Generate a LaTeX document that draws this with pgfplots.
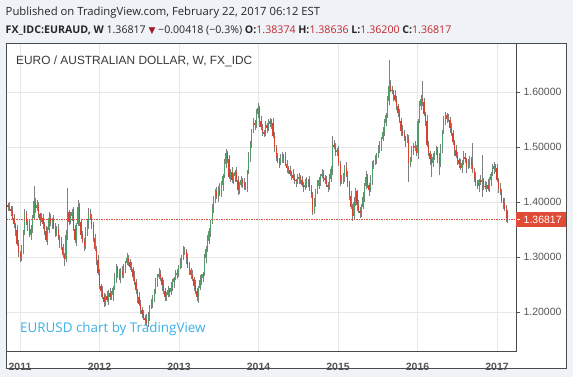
\documentclass[border=0pt]{standalone}
\usepackage{pgfplots}
\pgfplotsset{compat=1.18}
\usepackage{pgfplotstable}
\usepackage{fontspec}
\setmainfont{Liberation Sans}
\newfontfamily\osans{Open Sans}
\newfontfamily\djv{DejaVu Sans}
\definecolor{bgc}{HTML}{EFF2F6}
\definecolor{panelc}{HTML}{4B4B4B}
\definecolor{gridc}{HTML}{E8E8E8}
\definecolor{wickc}{HTML}{808080}
\definecolor{upc}{HTML}{4E9E68}
\definecolor{dnc}{HTML}{D8432F}
\definecolor{pricec}{HTML}{DF4B36}
\definecolor{valc}{HTML}{C1272D}
\definecolor{titlec}{HTML}{3A3A3A}
\definecolor{tickc}{HTML}{555555}
\definecolor{wmc}{HTML}{3BB0E8}

\pgfplotstableread{
i o h l c
0 1.395 1.399 1.385 1.392
1 1.392 1.400 1.384 1.388
2 1.388 1.393 1.375 1.384
3 1.384 1.394 1.367 1.372
4 1.372 1.378 1.354 1.360
5 1.360 1.363 1.339 1.350
6 1.350 1.359 1.321 1.325
7 1.325 1.332 1.300 1.308
8 1.308 1.312 1.291 1.298
9 1.298 1.323 1.294 1.315
10 1.315 1.350 1.306 1.345
11 1.345 1.388 1.340 1.378
12 1.378 1.384 1.359 1.365
13 1.365 1.368 1.347 1.358
14 1.358 1.367 1.336 1.340
15 1.340 1.359 1.332 1.352
16 1.352 1.376 1.345 1.372
17 1.372 1.430 1.368 1.402
18 1.402 1.407 1.381 1.390
19 1.390 1.405 1.385 1.395
20 1.395 1.401 1.372 1.378
21 1.378 1.381 1.357 1.368
22 1.368 1.381 1.364 1.372
23 1.372 1.379 1.352 1.360
24 1.360 1.364 1.341 1.348
25 1.348 1.356 1.328 1.332
26 1.332 1.355 1.323 1.350
27 1.350 1.382 1.345 1.372
28 1.372 1.378 1.356 1.362
29 1.362 1.371 1.351 1.368
30 1.368 1.377 1.351 1.355
31 1.355 1.362 1.337 1.345
32 1.345 1.356 1.338 1.352
33 1.352 1.360 1.331 1.335
34 1.335 1.340 1.317 1.326
35 1.326 1.336 1.313 1.318
36 1.318 1.324 1.299 1.305
37 1.305 1.308 1.285 1.296
38 1.296 1.349 1.292 1.340
39 1.340 1.426 1.332 1.382
40 1.382 1.386 1.358 1.365
41 1.365 1.383 1.361 1.375
42 1.375 1.387 1.366 1.382
43 1.382 1.392 1.347 1.352
44 1.352 1.358 1.326 1.332
45 1.332 1.363 1.321 1.360
46 1.360 1.405 1.356 1.392
47 1.392 1.399 1.357 1.365
48 1.365 1.369 1.333 1.340
49 1.340 1.348 1.326 1.330
50 1.330 1.335 1.311 1.320
51 1.320 1.355 1.315 1.345
52 1.345 1.368 1.339 1.362
53 1.362 1.390 1.351 1.378
54 1.378 1.387 1.368 1.372
55 1.372 1.379 1.352 1.360
56 1.360 1.364 1.328 1.335
57 1.335 1.343 1.311 1.315
58 1.315 1.320 1.286 1.295
59 1.295 1.305 1.267 1.272
60 1.272 1.278 1.242 1.248
61 1.248 1.251 1.227 1.238
62 1.238 1.247 1.224 1.228
63 1.228 1.235 1.210 1.218
64 1.218 1.234 1.211 1.230
65 1.230 1.238 1.218 1.222
66 1.222 1.240 1.213 1.235
67 1.235 1.245 1.223 1.228
68 1.228 1.238 1.222 1.232
69 1.232 1.248 1.221 1.245
70 1.245 1.271 1.241 1.262
71 1.262 1.287 1.254 1.280
72 1.280 1.284 1.263 1.270
73 1.270 1.278 1.258 1.262
74 1.262 1.280 1.253 1.275
75 1.275 1.285 1.263 1.268
76 1.268 1.288 1.262 1.282
77 1.282 1.293 1.271 1.290
78 1.290 1.307 1.286 1.298
79 1.298 1.305 1.284 1.292
80 1.292 1.296 1.276 1.283
81 1.283 1.291 1.274 1.278
82 1.278 1.283 1.256 1.265
83 1.265 1.275 1.250 1.255
84 1.255 1.261 1.234 1.240
85 1.240 1.243 1.217 1.228
86 1.228 1.237 1.211 1.215
87 1.215 1.222 1.197 1.205
88 1.205 1.209 1.189 1.196
89 1.196 1.204 1.186 1.190
90 1.190 1.195 1.177 1.186
91 1.186 1.196 1.175 1.180
92 1.180 1.201 1.174 1.195
93 1.195 1.213 1.184 1.210
94 1.210 1.224 1.206 1.215
95 1.215 1.232 1.207 1.225
96 1.225 1.242 1.218 1.238
97 1.238 1.263 1.234 1.255
98 1.255 1.270 1.246 1.265
99 1.265 1.280 1.260 1.270
100 1.270 1.276 1.256 1.262
101 1.262 1.265 1.239 1.250
102 1.250 1.259 1.234 1.238
103 1.238 1.245 1.220 1.228
104 1.228 1.236 1.221 1.232
105 1.232 1.248 1.228 1.240
106 1.240 1.245 1.227 1.236
107 1.236 1.255 1.231 1.245
108 1.245 1.261 1.239 1.255
109 1.255 1.265 1.244 1.262
110 1.262 1.277 1.258 1.268
111 1.268 1.279 1.260 1.272
112 1.272 1.286 1.265 1.282
113 1.282 1.298 1.278 1.290
114 1.290 1.305 1.281 1.300
115 1.300 1.320 1.295 1.310
116 1.310 1.318 1.304 1.312
117 1.312 1.315 1.287 1.298
118 1.298 1.307 1.281 1.285
119 1.285 1.292 1.268 1.276
120 1.276 1.280 1.261 1.268
121 1.268 1.276 1.256 1.260
122 1.260 1.265 1.239 1.248
123 1.248 1.258 1.233 1.238
124 1.238 1.244 1.220 1.228
125 1.228 1.248 1.217 1.245
126 1.245 1.267 1.241 1.258
127 1.258 1.269 1.250 1.262
128 1.262 1.274 1.255 1.270
129 1.270 1.306 1.266 1.298
130 1.298 1.320 1.289 1.315
131 1.315 1.340 1.310 1.330
132 1.330 1.354 1.324 1.348
133 1.348 1.368 1.337 1.365
134 1.365 1.397 1.361 1.388
135 1.388 1.412 1.380 1.405
136 1.405 1.424 1.398 1.420
137 1.420 1.428 1.406 1.410
138 1.410 1.430 1.401 1.425
139 1.425 1.435 1.411 1.416
140 1.416 1.438 1.410 1.432
141 1.432 1.451 1.421 1.448
142 1.448 1.479 1.444 1.470
143 1.470 1.497 1.462 1.490
144 1.490 1.494 1.471 1.478
145 1.478 1.486 1.442 1.446
146 1.446 1.460 1.437 1.455
147 1.455 1.465 1.435 1.440
148 1.440 1.454 1.434 1.448
149 1.448 1.458 1.437 1.455
150 1.455 1.464 1.436 1.440
151 1.440 1.447 1.414 1.422
152 1.422 1.436 1.415 1.432
153 1.432 1.448 1.428 1.440
154 1.440 1.445 1.426 1.435
155 1.435 1.445 1.423 1.428
156 1.428 1.436 1.422 1.430
157 1.430 1.458 1.419 1.455
158 1.455 1.491 1.451 1.482
159 1.482 1.512 1.474 1.505
160 1.505 1.534 1.498 1.530
161 1.530 1.553 1.526 1.545
162 1.545 1.550 1.531 1.540
163 1.540 1.570 1.535 1.560
164 1.560 1.580 1.554 1.572
165 1.572 1.575 1.537 1.548
166 1.548 1.557 1.532 1.536
167 1.536 1.543 1.520 1.528
168 1.528 1.532 1.518 1.525
169 1.525 1.548 1.521 1.540
170 1.540 1.545 1.526 1.535
171 1.535 1.552 1.530 1.542
172 1.542 1.554 1.536 1.548
173 1.548 1.551 1.534 1.545
174 1.545 1.554 1.516 1.520
175 1.520 1.527 1.492 1.500
176 1.500 1.504 1.475 1.482
177 1.482 1.490 1.471 1.475
178 1.475 1.480 1.463 1.472
179 1.472 1.488 1.467 1.478
180 1.478 1.491 1.472 1.485
181 1.485 1.488 1.471 1.482
182 1.482 1.491 1.466 1.470
183 1.470 1.477 1.454 1.462
184 1.462 1.466 1.451 1.458
185 1.458 1.466 1.448 1.452
186 1.452 1.457 1.441 1.450
187 1.450 1.460 1.440 1.445
188 1.445 1.451 1.434 1.440
189 1.440 1.443 1.427 1.438
190 1.438 1.451 1.434 1.442
191 1.442 1.453 1.434 1.446
192 1.446 1.450 1.433 1.440
193 1.440 1.448 1.428 1.432
194 1.432 1.437 1.419 1.428
195 1.428 1.442 1.423 1.432
196 1.432 1.446 1.426 1.440
197 1.440 1.443 1.427 1.438
198 1.438 1.447 1.421 1.425
199 1.425 1.432 1.407 1.415
200 1.415 1.419 1.376 1.383
201 1.383 1.408 1.379 1.400
202 1.400 1.425 1.391 1.420
203 1.420 1.440 1.415 1.430
204 1.430 1.446 1.424 1.440
205 1.440 1.451 1.429 1.448
206 1.448 1.461 1.444 1.452
207 1.452 1.459 1.437 1.445
208 1.445 1.449 1.433 1.440
209 1.440 1.448 1.428 1.432
210 1.432 1.437 1.419 1.428
211 1.428 1.452 1.423 1.442
212 1.442 1.466 1.436 1.460
213 1.460 1.520 1.449 1.505
214 1.505 1.514 1.496 1.500
215 1.500 1.507 1.484 1.492
216 1.492 1.499 1.485 1.495
217 1.495 1.503 1.466 1.470
218 1.470 1.475 1.429 1.438
219 1.438 1.450 1.433 1.440
220 1.440 1.454 1.434 1.448
221 1.448 1.468 1.437 1.465
222 1.465 1.474 1.446 1.450
223 1.450 1.457 1.427 1.435
224 1.435 1.439 1.405 1.412
225 1.412 1.420 1.388 1.392
226 1.392 1.397 1.366 1.375
227 1.375 1.410 1.370 1.400
228 1.400 1.426 1.394 1.420
229 1.420 1.423 1.384 1.395
230 1.395 1.404 1.381 1.385
231 1.385 1.392 1.372 1.380
232 1.380 1.396 1.373 1.392
233 1.392 1.418 1.388 1.410
234 1.410 1.435 1.401 1.430
235 1.430 1.456 1.425 1.446
236 1.446 1.452 1.426 1.432
237 1.432 1.435 1.411 1.422
238 1.422 1.449 1.418 1.440
239 1.440 1.475 1.432 1.468
240 1.468 1.476 1.461 1.472
241 1.472 1.486 1.468 1.478
242 1.478 1.490 1.469 1.485
243 1.485 1.505 1.480 1.495
244 1.495 1.511 1.489 1.505
245 1.505 1.518 1.494 1.515
246 1.515 1.537 1.511 1.528
247 1.528 1.552 1.520 1.545
248 1.545 1.562 1.538 1.558
249 1.558 1.593 1.554 1.585
250 1.585 1.659 1.576 1.612
251 1.612 1.622 1.600 1.605
252 1.605 1.611 1.596 1.602
253 1.602 1.605 1.584 1.595
254 1.595 1.604 1.582 1.586
255 1.586 1.593 1.567 1.575
256 1.575 1.579 1.555 1.562
257 1.562 1.570 1.544 1.548
258 1.548 1.553 1.521 1.530
259 1.530 1.540 1.520 1.525
260 1.525 1.531 1.512 1.518
261 1.518 1.521 1.501 1.512
262 1.512 1.524 1.508 1.515
263 1.515 1.522 1.437 1.472
264 1.472 1.482 1.465 1.478
265 1.478 1.503 1.474 1.495
266 1.495 1.507 1.486 1.502
267 1.502 1.512 1.493 1.498
268 1.498 1.504 1.484 1.490
269 1.490 1.551 1.479 1.548
270 1.548 1.584 1.544 1.575
271 1.575 1.595 1.567 1.588
272 1.588 1.620 1.575 1.582
273 1.582 1.590 1.556 1.560
274 1.560 1.565 1.539 1.548
275 1.548 1.558 1.500 1.505
276 1.505 1.511 1.484 1.490
277 1.490 1.493 1.467 1.478
278 1.478 1.487 1.446 1.472
279 1.472 1.490 1.464 1.483
280 1.483 1.494 1.476 1.490
281 1.490 1.503 1.486 1.495
282 1.495 1.500 1.471 1.480
283 1.480 1.490 1.450 1.470
284 1.470 1.506 1.464 1.500
285 1.500 1.531 1.489 1.528
286 1.528 1.557 1.524 1.548
287 1.548 1.565 1.540 1.558
288 1.558 1.562 1.545 1.552
289 1.552 1.560 1.546 1.550
290 1.550 1.555 1.526 1.535
291 1.535 1.545 1.521 1.526
292 1.526 1.532 1.504 1.510
293 1.510 1.513 1.484 1.495
294 1.495 1.504 1.480 1.484
295 1.484 1.491 1.468 1.476
296 1.476 1.480 1.463 1.470
297 1.470 1.478 1.458 1.462
298 1.462 1.477 1.453 1.472
299 1.472 1.493 1.467 1.483
300 1.483 1.489 1.472 1.478
301 1.478 1.481 1.454 1.465
302 1.465 1.479 1.461 1.470
303 1.470 1.485 1.462 1.478
304 1.478 1.482 1.461 1.468
305 1.468 1.508 1.454 1.458
306 1.458 1.463 1.436 1.445
307 1.445 1.455 1.430 1.435
308 1.435 1.441 1.424 1.430
309 1.430 1.443 1.419 1.440
310 1.440 1.449 1.432 1.436
311 1.436 1.486 1.410 1.440
312 1.440 1.444 1.423 1.430
313 1.430 1.438 1.424 1.428
314 1.428 1.437 1.419 1.432
315 1.432 1.442 1.420 1.425
316 1.425 1.446 1.419 1.440
317 1.440 1.455 1.429 1.452
318 1.452 1.469 1.448 1.460
319 1.460 1.473 1.452 1.466
320 1.466 1.470 1.455 1.462
321 1.462 1.470 1.436 1.440
322 1.440 1.445 1.416 1.425
323 1.425 1.435 1.413 1.418
324 1.418 1.424 1.399 1.405
325 1.405 1.408 1.387 1.398
326 1.398 1.407 1.384 1.388
327 1.388 1.395 1.364 1.372
328 1.38374 1.38636 1.36200 1.36817
}\candles

\begin{document}
\begin{tikzpicture}[x=1pt,y=1pt]
\useasboundingbox (0,0) rectangle (573,377);
\fill[bgc] (0,0) rectangle (573,377);
\fill[white] (6,9) rectangle (566,334);
\begin{axis}[
  at={(6pt,26pt)}, anchor=south west,
  width=510pt, height=308pt, scale only axis,
  xmin=-1.3, xmax=333.4, ymin=1.1296, ymax=1.6896,
  xtick={7.88,60.06,112.24,164.42,216.6,268.78,320.96},
  xticklabels={2011,2012,2013,2014,2015,2016,2017},
  ytick={1.2,1.3,1.4,1.5,1.6},
  ytick pos=right, xtick pos=bottom,
  yticklabel pos=right,
  tick align=outside, major tick length=4pt,
  xtick style={draw=none},
  ytick style={draw=tickc, line width=0.6pt},
  /pgf/number format/assume math mode=true,
  yticklabel style={/pgf/number format/.cd, fixed, fixed zerofill, precision=5,
    /tikz/.cd, anchor=west, font=\fontsize{10.5}{12}\selectfont, text=tickc},
  xticklabel style={anchor=base, yshift=-15.5pt, font=\fontsize{10.5}{12}\selectfont\bfseries, text=tickc},
  grid=major, major grid style={draw=gridc, line width=0.6pt},
  axis line style={draw=panelc, line width=0.8pt},
  colormap={rg}{color(0)=(dnc) color(1)=(upc)},
  point meta min=0, point meta max=1,
]
\addplot[quiver={u=0, v=\thisrow{h}-\thisrow{l}}, -, color=wickc, line width=0.6pt] table[x=i, y=l] {\candles};
\addplot[quiver={u=0, v=\thisrow{c}-\thisrow{o}, colored=mapped color}, -, line width=1.25pt,
  point meta=explicit] table[x=i, y=o, meta expr={\thisrow{c}>=\thisrow{o}}] {\candles};
\coordinate (pl0) at (axis cs:-1.3,1.36817);
\coordinate (pl) at (axis cs:333.4,1.36817);
\end{axis}
\draw[draw=pricec, line width=0.9pt, dash pattern=on 1.5pt off 1pt] (pl0) -- (pl);
\draw[panelc, line width=0.8pt] (6,9) rectangle (566,334);
\fill[pricec] ([yshift=-7.3pt]pl) rectangle ([xshift=50pt,yshift=7.3pt]pl);
\draw[white, line width=0.6pt] ([xshift=1pt]pl) -- ([xshift=4pt]pl);
\node[text=white, font=\fontsize{10.5}{12}\selectfont, anchor=west, inner sep=0pt] at ([xshift=7.5pt]pl) {1.36817};
\node[anchor=base west, inner sep=0pt, text=titlec, font=\fontsize{11.9}{14}\selectfont] at (16,312) {EURO / AUSTRALIAN DOLLAR, W, FX\_IDC};
\node[anchor=base west, inner sep=0pt, text=wmc, font=\osans\fontsize{13.4}{15}\selectfont] at (20,44) {EURUSD chart by TradingView};
\node[anchor=base west, inner sep=0pt, text=black!85, font=\osans\fontsize{11.3}{14}\selectfont] at (5.5,361.5) {Published on TradingView.com, February 22, 2017 06:12 EST};
\node[anchor=base west, inner sep=0pt, text=black!85, font=\osans\fontsize{10.6}{14}\selectfont] at (5.5,343.7)
  {\textbf{FX\_IDC:EURAUD, W} 1.36817 {\djv\color{valc!80!black}\fontsize{9}{10}\selectfont ▼}~−0.00418 (−0.3\%) \textbf{O:}{\color{valc}1.38374} \textbf{H:}{\color{valc}1.38636} \textbf{L:}{\color{valc}1.36200} \textbf{C:}{\color{valc}1.36817}};
\end{tikzpicture}
\end{document}
